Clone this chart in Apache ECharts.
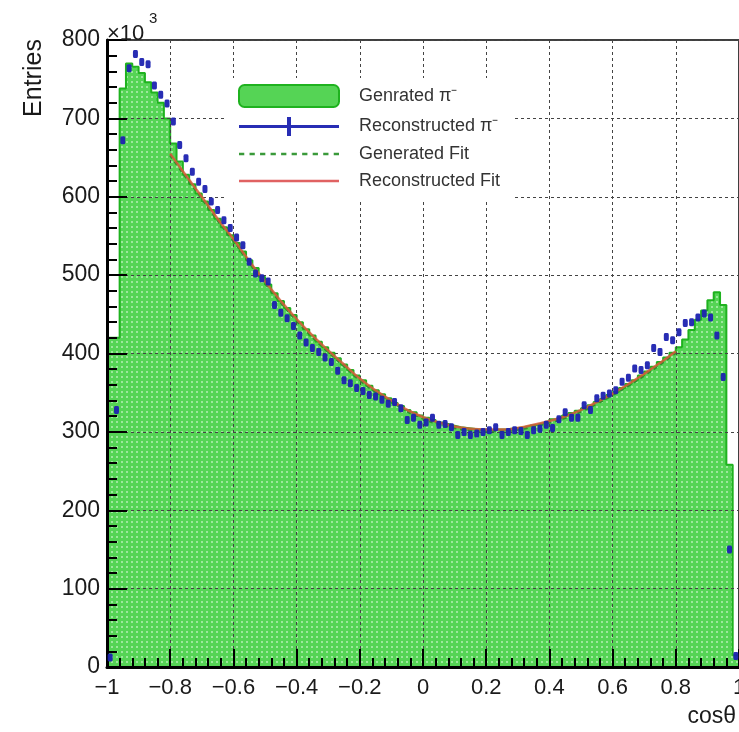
<!DOCTYPE html>
<html>
<head>
	<meta charset="UTF-8">
	<title>cos theta</title>
	<script src="https://cdn.jsdelivr.net/npm/echarts@6/dist/echarts.min.js"></script>
	<style>
		html, body { margin: 0; padding: 0; background: #fff; }
		#main { width: 739px; height: 732px; }
	</style>
</head>
<body>
<div id="main"></div>
<script>
	// histogram binning: 100 bins from -1 to 1
	var xLow = -1, binWidth = 0.02;

	// generated pi- (x10^3 entries per bin)
	var genCounts = [
		420, 420, 738, 770, 766, 758, 746, 733, 720, 700,
		668, 645, 628, 616, 604, 594, 583, 572, 561, 551,
		541, 530, 519, 509, 498, 488, 477, 467, 458, 449,
		440, 431, 423, 415, 408, 401, 394, 386, 379, 372,
		366, 359, 353, 348, 343, 337, 333, 328, 325, 321,
		318, 315, 312, 310, 308, 306, 305, 304, 303, 303,
		302, 303, 303, 304, 305, 306, 308, 309, 311, 313,
		316, 318, 321, 324, 327, 330, 334, 338, 342, 347,
		351, 356, 361, 366, 372, 377, 383, 389, 395, 401,
		408, 418, 430, 443, 455, 468, 478, 462, 258, 15
	];

	// reconstructed pi- (x10^3 entries per bin)
	var recCounts = [
		12, 328, 672, 764, 782, 772, 769, 742, 730, 719,
		696, 666, 649, 632, 619, 610, 594, 583, 570, 560,
		548, 538, 517, 502, 496, 492, 462, 452, 445, 435,
		423, 414, 407, 402, 395, 389, 378, 366, 362, 356,
		352, 347, 345, 341, 336, 338, 330, 315, 318, 309,
		312, 318, 309, 310, 306, 296, 300, 296, 298, 300,
		302, 306, 296, 300, 302, 301, 296, 302, 304, 309,
		305, 316, 325, 318, 318, 334, 328, 343, 346, 349,
		353, 364, 369, 381, 379, 385, 407, 402, 421, 417,
		427, 439, 440, 446, 451, 446, 423, 370, 150, 14
	];

	// fit curves sampled over the fit range
	var fitX = [-0.8, -0.75, -0.7, -0.65, -0.6, -0.55, -0.5, -0.45, -0.4, -0.35, -0.3,
		-0.25, -0.2, -0.15, -0.1, -0.05, 0, 0.05, 0.1, 0.15, 0.2, 0.25, 0.3,
		0.35, 0.4, 0.45, 0.5, 0.55, 0.6, 0.65, 0.7, 0.75, 0.8];
	var genFit = [653, 625, 598, 570, 544, 516, 490, 465, 442, 421, 402,
		384, 366, 351, 338, 326, 317, 310, 305, 302, 301, 301, 303,
		307, 312, 318, 326, 336, 347, 359, 372, 386, 401];
	var recFit = [655, 627, 600, 572, 546, 518, 492, 467, 444, 423, 404,
		386, 368, 353, 340, 328, 319, 312, 307, 304, 303, 303, 305,
		309, 314, 320, 328, 338, 349, 361, 374, 388, 403];

	var xTicks = [-1, -0.8, -0.6, -0.4, -0.2, 0, 0.2, 0.4, 0.6, 0.8, 1];
	var yTicks = [0, 100, 200, 300, 400, 500, 600, 700, 800];

	var FONT = 'Liberation Sans, Arial, sans-serif';

	function initData(){
		var myChart = echarts.init(document.getElementById('main'));

		// hist as step outline over bin edges
		var histData = [[xLow, 0]];
		for (var i = 0; i < genCounts.length; i++) {
			histData.push([+(xLow + i * binWidth).toFixed(2), genCounts[i]]);
		}
		histData.push([xTicks[xTicks.length - 1], genCounts[genCounts.length - 1]]);
		histData.push([xTicks[xTicks.length - 1], 0]);

		var recData = [];
		for (var j = 0; j < recCounts.length; j++) {
			recData.push([+(xLow + (j + 0.5) * binWidth).toFixed(3), recCounts[j]]);
		}
		var genFitData = [], recFitData = [];
		for (var k = 0; k < fitX.length; k++) {
			genFitData.push([fitX[k], genFit[k]]);
			recFitData.push([fitX[k], recFit[k]]);
		}

		// dotted green fill like ROOT's pattern
		var pc = document.createElement('canvas');
		pc.width = 5; pc.height = 5;
		var g = pc.getContext('2d');
		g.fillStyle = '#55d455'; g.fillRect(0, 0, 5, 5);
		g.fillStyle = '#9de89d'; g.fillRect(1, 1, 2, 2);

		var dots = '';
		for (var d = 0; d < 100; d += 10) dots += 'M' + d + ',0h5v2.5h-5z ';

		var option = {
			animation: false,
			backgroundColor: '#fff',
			grid: {
				left: 107, top: 40, right: 0, bottom: 65,
				outerBoundsMode: 'none',
				containLabel: false,
				show: true, borderColor: '#000', borderWidth: 1.5
			},
			legend: {
				orient: 'vertical',
				left: 226, top: 78,
				padding: [6, 14, 10, 12],
				backgroundColor: '#fff',
				itemWidth: 100, itemHeight: 22, itemGap: 9,
				selectedMode: false,
				z: 8,
				textStyle: { fontFamily: FONT, fontSize: 18, color: '#333', padding: [0, 0, 0, 15] },
				data: [
					{ name: 'Genrated π⁻', icon: 'roundRect',
						itemStyle: { color: '#55d455', borderColor: '#1fb21f', borderWidth: 2 } },
					{ name: 'Reconstructed π⁻', icon: 'path://M0,8h100v3h-100z M48,0h4v19h-4z',
						itemStyle: { color: '#1c22b0', borderWidth: 0 } },
					{ name: 'Generated Fit', icon: 'path://' + dots,
						itemStyle: { color: '#3a9a3a', borderWidth: 0 } },
					{ name: 'Reconstructed Fit', icon: 'path://M0,0h100v2.5h-100z',
						itemStyle: { color: '#e06262', borderWidth: 0 } }
				]
			},
			xAxis: {
				type: 'value', min: xTicks[0], max: xTicks[xTicks.length - 1], interval: 0.2,
				z: 3,
				axisLine: { show: true, onZero: false, lineStyle: { color: '#000', width: 3 } },
				axisTick: { show: true, inside: true, length: 18, lineStyle: { color: '#000', width: 2 } },
				minorTick: { show: true, splitNumber: 5, length: 9, lineStyle: { color: '#000', width: 2 } },
				splitLine: { show: true, lineStyle: { color: '#444', width: 1, type: [3, 3] } },
				axisLabel: {
					margin: 10, fontFamily: FONT, fontSize: 22, color: '#1a1a1a',
					formatter: function(v){ return String(Math.round(v * 10) / 10).replace('-', '\u2212'); }
				}
			},
			yAxis: {
				type: 'value', min: yTicks[0], max: yTicks[yTicks.length - 1], interval: 100,
				z: 3,
				axisLine: { show: true, onZero: false, lineStyle: { color: '#000', width: 3 } },
				axisTick: { show: true, inside: true, length: 20, lineStyle: { color: '#000', width: 2 } },
				minorTick: { show: true, splitNumber: 5, length: 10, lineStyle: { color: '#000', width: 2 } },
				splitLine: { show: true, lineStyle: { color: '#444', width: 1, type: [3, 3] } },
				axisLabel: { margin: 7, fontFamily: FONT, fontSize: 23, color: '#1a1a1a' }
			},
			graphic: [
				{ type: 'text', left: 107, top: 23, z: 10,
					style: { text: '×10', fontFamily: FONT, fontSize: 22, fill: '#1a1a1a' } },
				{ type: 'text', left: 149, top: 11, z: 10,
					style: { text: '3', fontFamily: FONT, fontSize: 15, fill: '#1a1a1a' } },
				{ type: 'text', x: 34, y: 78, rotation: Math.PI / 2, z: 10,
					style: { text: 'Entries', fontFamily: FONT, fontSize: 25, fill: '#1a1a1a',
						align: 'center', verticalAlign: 'middle' } },
				{ type: 'text', right: 3, top: 705, z: 10,
					style: { text: 'cosθ', fontFamily: FONT, fontSize: 23, fill: '#1a1a1a' } }
			],
			series: [
				{
					name: 'Genrated π⁻',
					type: 'line',
					step: 'end',
					data: histData,
					symbol: 'none',
					z: 2,
					lineStyle: { color: '#1fb21f', width: 2 },
					itemStyle: { color: '#55d455' },
					areaStyle: { color: { image: pc, repeat: 'repeat' }, opacity: 1 }
				},
				{
					name: 'Generated Fit',
					type: 'line',
					smooth: true,
					data: genFitData,
					symbol: 'none',
					z: 4,
					lineStyle: { color: '#2f8f2f', width: 2.5, type: [4, 4] },
					itemStyle: { color: '#3a9a3a' }
				},
				{
					name: 'Reconstructed Fit',
					type: 'line',
					smooth: true,
					data: recFitData,
					symbol: 'none',
					z: 5,
					lineStyle: { color: '#d85a3a', width: 2.5, opacity: 0.85 },
					itemStyle: { color: '#e06262' }
				},
				{
					name: 'Reconstructed π⁻',
					type: 'scatter',
					data: recData,
					symbol: 'roundRect',
					symbolSize: [5, 8],
					z: 6,
					itemStyle: { color: '#1c22b0', opacity: 0.95 }
				}
			]
		};

		myChart.setOption(option);
	}

	initData();
</script>
</body>
</html>
